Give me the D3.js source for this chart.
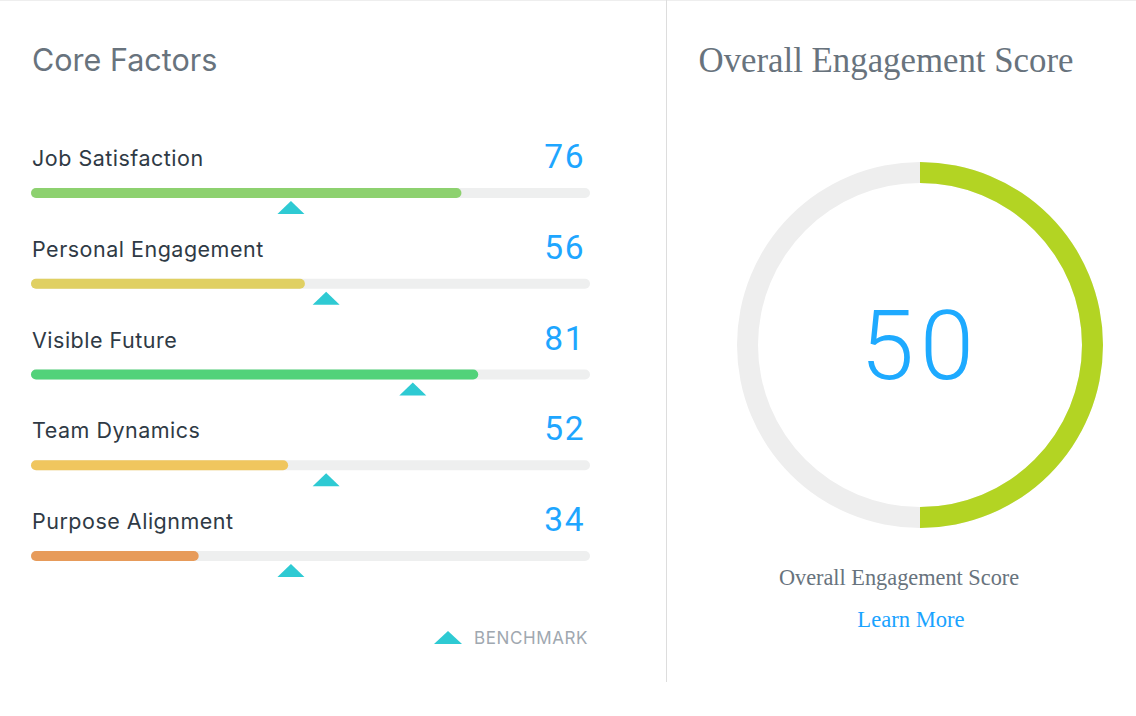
<!DOCTYPE html>
<html><head><meta charset="utf-8">
<script src="https://cdn.jsdelivr.net/npm/d3@7"></script>
<style>html,body{margin:0;padding:0;background:#fff;}svg{display:block;}</style>
</head><body>
<svg id="chart" width="1136" height="716"></svg>
<script>
const factors = ["Job Satisfaction","Personal Engagement","Visible Future","Team Dynamics","Purpose Alignment"];
const scores = [76, 56, 81, 52, 34];
const fillLevels = [77, 49, 80, 46, 30];
const benchmarks = [46.5, 52.8, 68.3, 52.8, 46.5];
const barColors = ["#8dd16f","#e0d062","#52d27a","#f0c65e","#e79b5a"];
const overallScore = 50;

const svg = d3.select("#chart");
svg.append("line").attr("x1",0).attr("x2",1136).attr("y1",0.5).attr("y2",0.5).attr("stroke","#eeeeee");
svg.append("line").attr("x1",666.5).attr("x2",666.5).attr("y1",0).attr("y2",682).attr("stroke","#dddddd");

const sans = "Inter, 'Open Sans', sans-serif";
// Left panel
svg.append("text").attr("x",32).attr("y",71).text("Core Factors")
  .attr("font-family",sans).attr("font-size",30.5).attr("fill","#68737d");

const x = d3.scaleLinear().domain([0,100]).range([31,590]);
const rowY = d3.scaleLinear().domain([0,4]).range([193,556]);
const barH = 10;

const rows = svg.append("g").selectAll("g").data(factors).join("g")
  .attr("transform",(d,i)=>`translate(0,${rowY(i)})`);

rows.append("text").attr("x",32).attr("y",-27).text(d=>d)
  .attr("font-family",sans).attr("font-size",21.5).attr("letter-spacing",0.5).attr("fill","#2f3a45");
rows.append("text").attr("x",585).attr("y",-25).attr("text-anchor","end").text((d,i)=>scores[i])
  .attr("font-family","Roboto, sans-serif").attr("font-weight",400).attr("font-size",33.5).attr("letter-spacing",1.5).attr("fill","#1ea6ff");
rows.append("rect").attr("x",x(0)).attr("y",-barH/2).attr("width",x(100)-x(0)).attr("height",barH)
  .attr("rx",barH/2).attr("fill","#eeefef");
rows.append("rect").attr("x",x(0)).attr("y",-barH/2).attr("width",(d,i)=>x(fillLevels[i])-x(0)).attr("height",barH)
  .attr("rx",barH/2).attr("fill",(d,i)=>barColors[i]);
const tri = (cx, top, w, h) => `M${cx-w/2},${top+h}L${cx},${top}L${cx+w/2},${top+h}Z`;
rows.append("path").attr("d",(d,i)=>tri(x(benchmarks[i]), 8, 27, 13)).attr("fill","#2ecad3");

// legend
svg.append("path").attr("d",tri(448,631,28,13)).attr("fill","#2ecad3");
svg.append("text").attr("x",474).attr("y",644).text("BENCHMARK")
  .attr("font-family",sans).attr("font-size",17).attr("letter-spacing",0.6).attr("fill","#a0a8b0");

// Right panel
const serif = "'Liberation Serif', 'Times New Roman', serif";
svg.append("text").attr("x",886).attr("y",72).attr("text-anchor","middle").text("Overall Engagement Score")
  .attr("font-family",serif).attr("font-size",34.8).attr("fill","#68737d");

const cx = 920, cy = 345, rOuter = 183, rInner = 162;
const angle = d3.scaleLinear().domain([0,100]).range([0, 2*Math.PI]);
const arc = d3.arc().innerRadius(rInner).outerRadius(rOuter);
const g = svg.append("g").attr("transform",`translate(${cx},${cy})`);
g.append("path").attr("d",arc({startAngle:0,endAngle:2*Math.PI})).attr("fill","#eeeeee");
g.append("path").attr("d",arc({startAngle:0,endAngle:angle(overallScore)})).attr("fill","#b3d423");
g.append("text").attr("x",0).attr("y",34).attr("text-anchor","middle").text(overallScore)
  .attr("font-family","Roboto, 'Open Sans', sans-serif").attr("font-weight",300).attr("font-size",97).attr("letter-spacing",6).attr("fill","#1eaaff");

svg.append("text").attr("x",899).attr("y",585).attr("text-anchor","middle").text("Overall Engagement Score")
  .attr("font-family",serif).attr("font-size",22.3).attr("fill","#68737d");
svg.append("text").attr("x",911).attr("y",627).attr("text-anchor","middle").text("Learn More")
  .attr("font-family",serif).attr("font-size",22.6).attr("fill","#1aa3ff");
</script>
</body></html>
